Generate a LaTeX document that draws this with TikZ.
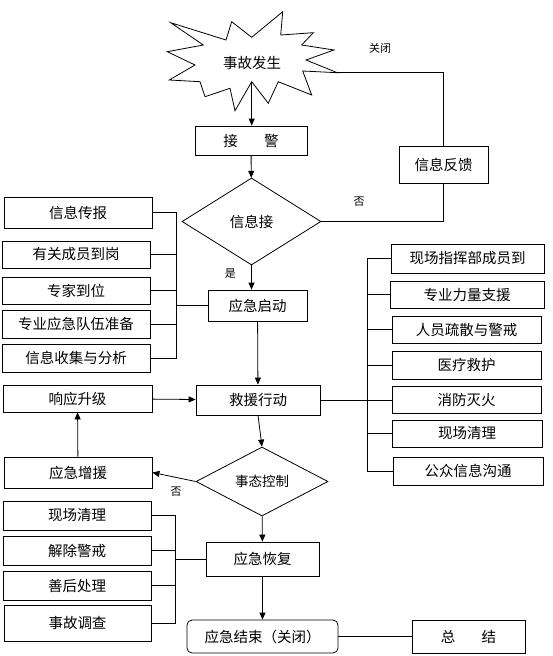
\documentclass[tikz,border=0pt]{standalone}
\usepackage{fontspec}
\setmainfont{Noto Sans CJK SC}
\usetikzlibrary{arrows.meta,positioning,calc,shapes.geometric}

\begin{document}
\begin{tikzpicture}[x=1pt,y=-1pt,line width=0.8pt,
    box/.style={draw,inner sep=0pt,font=\fontsize{14.5}{16}\selectfont},
    choice/.style={draw,diamond,inner sep=0pt,font=\fontsize{14.5}{16}\selectfont},
    tag/.style={font=\fontsize{11}{12}\selectfont},
    >={Triangle[length=7pt,width=6pt]}]
  \useasboundingbox (0,0) rectangle (552,656);
  % Burst
  \draw (170.7,22.7) -- (226,40) -- (231.7,21.7) -- (251.7,37.3) -- (282.7,11.7)
    -- (280.7,35) -- (313.3,32.7) -- (301.7,45) -- (334,50) -- (306,60)
    -- (337.3,72.7) coordinate (tip) -- (302.7,71) -- (311.7,95) -- (278.3,81.7)
    -- (268.3,103.3) -- (251.7,81.7) coordinate (foot) -- (235,110.7) -- (230,88.3)
    -- (205,96.7) -- (200,81.7) -- (169.3,80) -- (195,65) -- (167.3,51.7)
    -- (203.3,45) -- cycle;
  \node[font=\fontsize{14.5}{16}\selectfont] (accident) at (252,63) {事故发生};
  % Main column
  \node[box,minimum width=112,minimum height=29] (alarm) at (251,140.5) {接\hspace{1.8em}警};
  \node[choice,minimum width=139,minimum height=87] (check) at (251.5,221.5) {信息接};
  \node[box,minimum width=99,minimum height=31] (start) at (257.5,305.5) {应急启动};
  \node[box,minimum width=124,minimum height=30] (rescue) at (258,400) {救援行动};
  \node[choice,minimum width=132,minimum height=69,font=\fontsize{13.5}{15}\selectfont]
    (control) at (262,481.5) {事态控制};
  \node[box,minimum width=113,minimum height=34] (recover) at (262.5,559) {应急恢复};
  \node[box,rounded corners=5pt,minimum width=151,minimum height=33] (close) at (262.5,636.5) {应急结束（关闭）};
  \node[box,minimum width=113,minimum height=33] (summary) at (468.5,636.5) {总\hspace{1.8em}结};
  \node[box,minimum width=89,minimum height=37] (feedback) at (443.5,164.5) {信息反馈};
  % Left, first group
  \node[box,minimum width=148,minimum height=31] (report) at (78,212.5) {信息传报};
  \node[box,minimum width=148,minimum height=27] (staff) at (76,254.5) {有关成员到岗};
  \node[box,minimum width=148,minimum height=27] (expert) at (76,290.5) {专家到位};
  \node[box,minimum width=148,minimum height=28] (team) at (76,324) {专业应急队伍准备};
  \node[box,minimum width=148,minimum height=28] (collect) at (76,358) {信息收集与分析};
  % Right group
  \node[box,minimum width=153,minimum height=29] (cmd) at (467.5,258.5) {现场指挥部成员到};
  \node[box,minimum width=154,minimum height=27] (force) at (467,294.5) {专业力量支援};
  \node[box,minimum width=149,minimum height=27] (evac) at (466.5,329.5) {人员疏散与警戒};
  \node[box,minimum width=149,minimum height=28] (medic) at (466.5,365) {医疗救护};
  \node[box,minimum width=149,minimum height=27] (fire) at (466.5,399.5) {消防灭火};
  \node[box,minimum width=150,minimum height=27] (clean) at (467,433.5) {现场清理};
  \node[box,minimum width=150,minimum height=28] (public) at (468,471) {公众信息沟通};
  % Escalation
  \node[box,minimum width=149,minimum height=27] (upgrade) at (77.5,398.5) {响应升级};
  \node[box,minimum width=148,minimum height=31] (reinforce) at (78,472.5) {应急增援};
  % Left, last group
  \node[box,minimum width=148,minimum height=29] (tidy) at (77,515.5) {现场清理};
  \node[box,minimum width=148,minimum height=29] (lift) at (77,550.5) {解除警戒};
  \node[box,minimum width=148,minimum height=29] (after) at (77,585.5) {善后处理};
  \node[box,minimum width=147,minimum height=36] (probe) at (77.5,623) {事故调查};
  % Flow
  \draw[->] (foot) -- (foot |- alarm.north);
  \draw[->] (alarm) -- (check);
  \draw[->] (check.south) -- (check.south |- start.north) node[tag,pos=0.35,left=12pt]{是};
  \draw[->] (start) -- (rescue);
  \draw[->] (rescue.south) -- (control.north);
  \draw[->] (control) -- (recover);
  \draw[->] (recover) -- (close);
  \draw (close) -- (summary);
  \draw[->] (control.west) -- (reinforce.east) node[tag,pos=0.45,below=6pt]{否};
  \draw[->] (reinforce) -- (upgrade);
  \draw[->] (upgrade) -- (rescue);
  % Feedback loop
  \draw (tip) -- (tip -| feedback.north) -- (feedback.north);
  \draw (feedback.south) -- (feedback.south |- check.east) -- (check.east);
  \node[tag] (shut) at (380,48) {关闭};
  \node[tag] (no) at (359,202) {否};
  % Brackets
  \coordinate (b1) at (176,0);
  \draw (report.east) -- (report.east -| b1) -- (collect.east -| b1) -- (collect.east);
  \foreach \n in {staff,expert,team} \draw (\n.east) -- (\n.east -| b1);
  \draw (start.west -| b1) -- (start.west);
  \coordinate (b2) at (367,0);
  \draw (cmd.west) -- (cmd.west -| b2) -- (public.west -| b2) -- (public.west);
  \foreach \n in {force,evac,medic,clean} \draw (\n.west -| b2) -- (\n.west);
  \draw (rescue.east) -- (rescue.east -| fire.west);
  \coordinate (b3) at (175,0);
  \draw (tidy.east) -- (tidy.east -| b3) -- (probe.east -| b3) -- (probe.east);
  \foreach \n in {lift,after} \draw (\n.east) -- (\n.east -| b3);
  \draw (recover.west -| b3) -- (recover.west);
\end{tikzpicture}
\end{document}
